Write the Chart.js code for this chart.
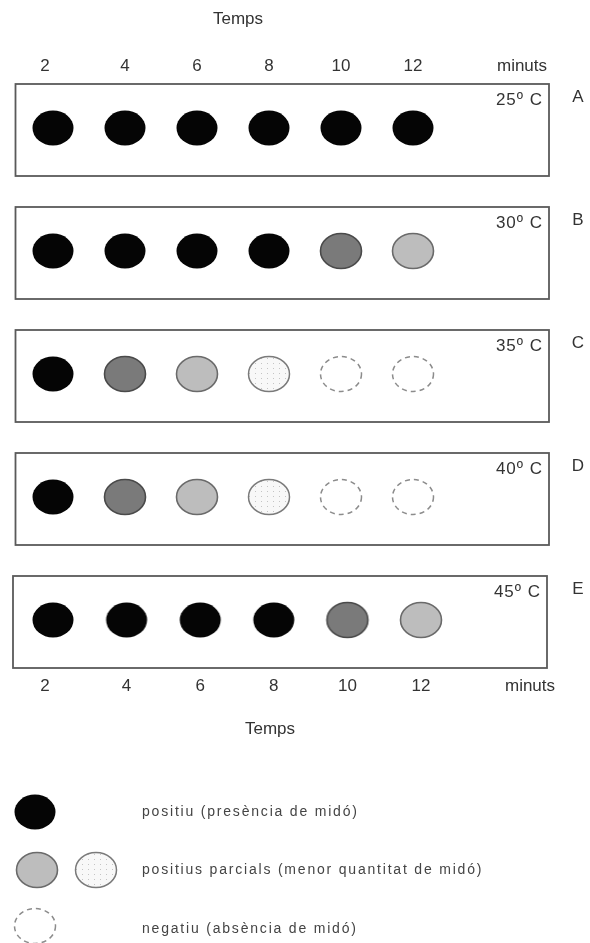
<!DOCTYPE html>
<html>
<head>
<meta charset="utf-8">
<script src="https://cdn.jsdelivr.net/npm/chart.js@4.4.1/dist/chart.umd.min.js"></script>
<style>
  html, body { margin: 0; padding: 0; background: #fff; }
  #wrap { width: 590px; height: 943px; }
</style>
</head>
<body>
<div id="wrap"><canvas id="chart" width="590" height="943"></canvas></div>
<script>
/* ===== Dades ===== */
const temps = [2, 4, 6, 8, 10, 12];              // minuts
const tickLabels = ['2', '4', '6', '8', '10', '12'];
const files = ['A', 'B', 'C', 'D', 'E'];
const temperatures = ['25º C', '30º C', '35º C', '40º C', '45º C'];
// 4 = positiu, 3 = gris fosc, 2 = gris clar, 1 = puntejat, 0 = negatiu
const filaA = [4, 4, 4, 4, 4, 4];
const filaB = [4, 4, 4, 4, 3, 2];
const filaC = [4, 3, 2, 1, 0, 0];
const filaD = [4, 3, 2, 1, 0, 0];
const filaE = [4, 4, 4, 4, 3, 2];
const nivells = [filaA, filaB, filaC, filaD, filaE];
const llegenda = [
  'positiu (presència de midó)',
  'positius parcials (menor quantitat de midó)',
  'negatiu (absència de midó)'
];

const FONT = '"Liberation Sans", Arial, sans-serif';

/* ===== Estils de punt (el·lipses) ===== */
function makeStyle(level){
  const c = document.createElement('canvas');
  c.width = 46; c.height = 40;
  const g = c.getContext('2d');
  const cx = 23, cy = 20, rx = 20.5, ry = 17.5;
  g.beginPath();
  g.ellipse(cx, cy, rx, ry, 0, 0, Math.PI*2);
  if (level === 4) {
    g.fillStyle = '#050505'; g.fill();
  } else if (level === 3) {
    g.fillStyle = '#7a7a7a'; g.fill();
    g.lineWidth = 1.6; g.strokeStyle = '#4a4a4a'; g.stroke();
  } else if (level === 2) {
    g.fillStyle = '#bdbdbd'; g.fill();
    g.lineWidth = 1.6; g.strokeStyle = '#6a6a6a'; g.stroke();
  } else if (level === 1) {
    g.fillStyle = '#f8f8f8'; g.fill();
    g.save(); g.clip();
    g.fillStyle = '#c4c4c4';
    for (let y = 4; y < 40; y += 5) {
      for (let x = (y % 10 ? 3 : 6); x < 46; x += 6) g.fillRect(x, y, 1, 1);
    }
    g.restore();
    g.beginPath(); g.ellipse(cx, cy, rx, ry, 0, 0, Math.PI*2);
    g.lineWidth = 1.5; g.strokeStyle = '#7a7a7a'; g.stroke();
  } else {
    g.setLineDash([5, 4]);
    g.lineWidth = 1.5; g.strokeStyle = '#8c8c8c'; g.stroke();
  }
  return c;
}
const styles = [0, 1, 2, 3, 4].map(makeStyle);

/* ===== Plugin : requadres, etiquetes, llegenda ===== */
const decor = {
  id: 'decor',
  beforeDatasetsDraw(chart){
    const {ctx, scales} = chart;
    const y = scales.y, x = scales.x, x2 = scales.x2;
    ctx.save();
    // requadres
    files.forEach((f, i)=>{
      const cy = y.getPixelForValue(i);
      const left = i === 4 ? 13 : 15.5, right = i === 4 ? 547 : 549;
      const top = cy - 44, bottom = cy + 48;
      ctx.lineWidth = 1.8; ctx.strokeStyle = '#5a5a5a';
      ctx.strokeRect(left, top, right-left, bottom-top);
      ctx.fillStyle = '#333';
      ctx.font = '17px ' + FONT;
      ctx.letterSpacing = '1px';
      ctx.textAlign = 'right'; ctx.textBaseline = 'middle';
      ctx.fillText(temperatures[i], right - 6, top + 16);
      ctx.letterSpacing = '0px';
      ctx.textAlign = 'center';
      ctx.fillText(f, 578, top + 13);
    });
    // eixos de temps
    ctx.fillStyle = '#333';
    ctx.font = '17px ' + FONT;
    ctx.textAlign = 'center'; ctx.textBaseline = 'middle';
    const topY = 66, botY = 686;
    temps.forEach((t, i)=>{
      const px = x.getPixelForValue(t) - (i === 0 ? 8 : 0);
      ctx.fillText(tickLabels[i], px, topY);
      const pb = x2.getPixelForValue(t) - (i === 0 ? 8 : 0);
      ctx.fillText(tickLabels[i], pb, botY);
    });
    ctx.fillText('minuts', 522, topY);
    ctx.fillText('minuts', 530, botY);
    ctx.fillText('Temps', 238, 19);
    ctx.fillText('Temps', 270, 729);
    // llegenda
    const mark = (s, px, py)=> ctx.drawImage(styles[s], px - 23, py - 20);
    mark(4, 35, 812);
    mark(2, 37, 870); mark(1, 96, 870);
    mark(0, 35, 926);
    ctx.fillStyle = '#444';
    ctx.font = '14px ' + FONT;
    ctx.letterSpacing = '1.8px';
    ctx.textAlign = 'left';
    ctx.fillText(llegenda[0], 142, 812);
    ctx.fillText(llegenda[1], 142, 870);
    ctx.fillText(llegenda[2], 142, 929);
    ctx.restore();
  }
};

/* ===== Chart ===== */
const datasets = nivells.map((row, i)=>({
  label: files[i],
  xAxisID: i === 4 ? 'x2' : 'x',
  data: row.map((lv, j)=>({ x: temps[j], y: i, lv })),
  pointStyle: (c)=> styles[c.raw ? c.raw.lv : 4],
  pointRadius: 20,
  pointHoverRadius: 20
}));

new Chart(document.getElementById('chart'), {
  type: 'scatter',
  data: { datasets },
  options: {
    responsive: false,
    animation: false,
    layout: { padding: 0, autoPadding: false },
    plugins: { legend: { display: false }, tooltip: { enabled: false } },
    events: [],
    scales: {
      x:  { type: 'linear', display: false, min: 2 - 53/36,   max: 2 + 537/36 },
      x2: { type: 'linear', axis: 'x', display: false, min: 2 - 53/36.8, max: 2 + 537/36.8 },
      y:  { type: 'linear', display: false, reverse: true, min: -128/123, max: 815/123 }
    }
  },
  plugins: [decor]
});
</script>
</body>
</html>
